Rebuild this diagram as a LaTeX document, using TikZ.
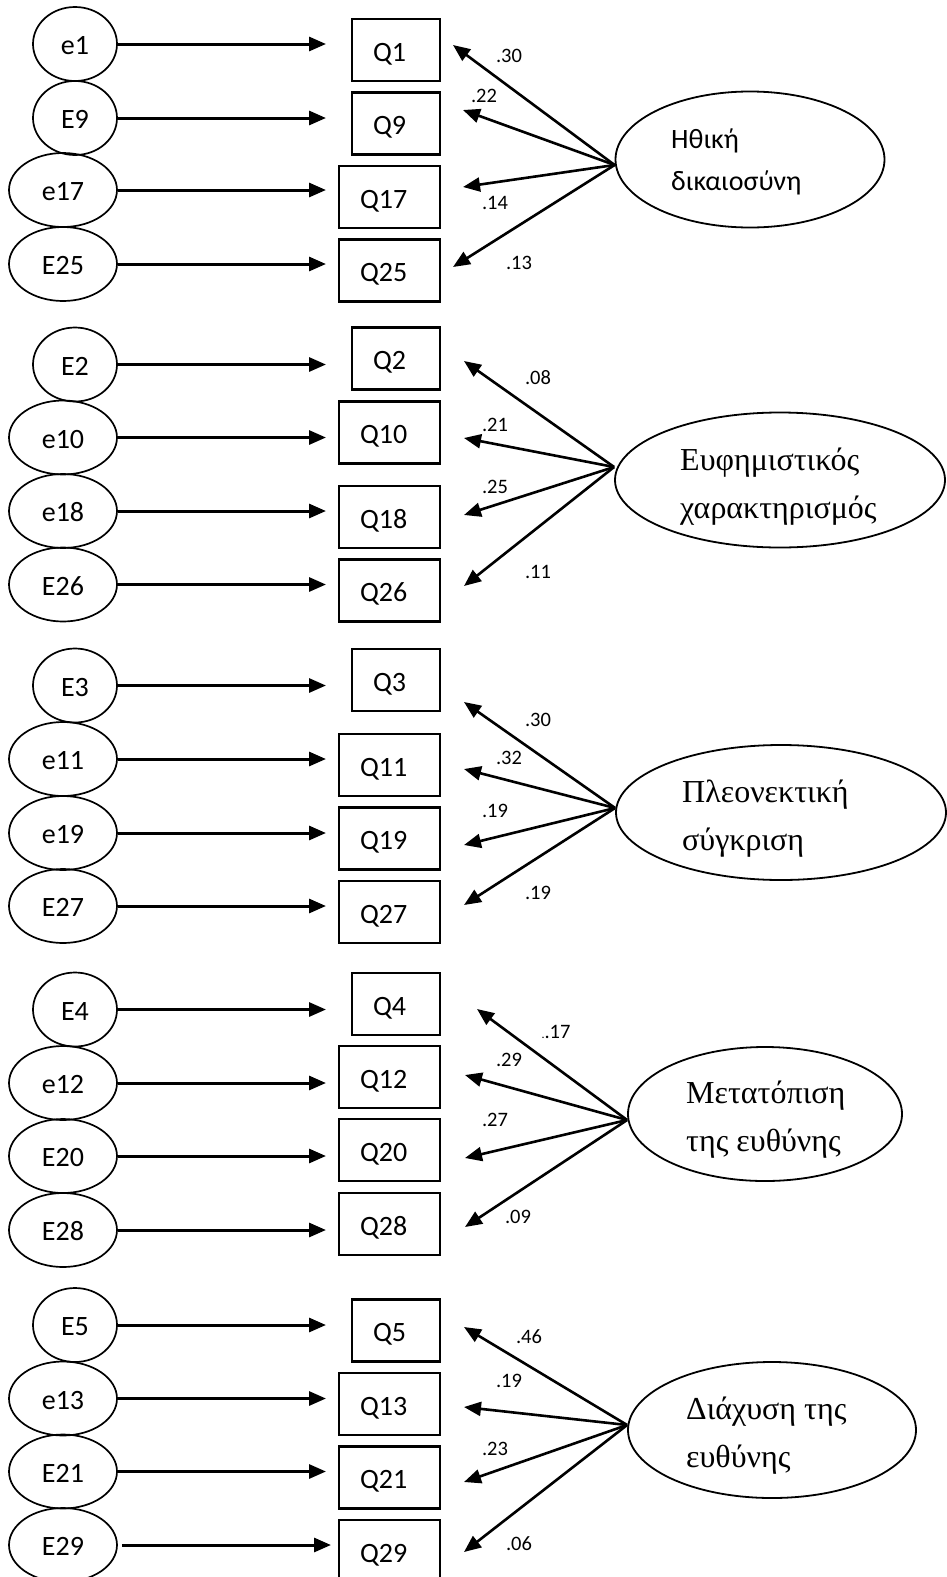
\documentclass[tikz,border=0pt]{standalone}
\usepackage{fontspec}
\setmainfont{Liberation Serif}
\newfontfamily\calfont{Carlito}
\usetikzlibrary{arrows.meta,shapes.geometric}

\begin{document}
\begin{tikzpicture}[x=1pt,y=-1pt,
  every node/.style={inner sep=0pt},
  errsmall/.style={draw, ellipse, line width=1.7pt, minimum width=84pt, minimum height=74pt,
    text height=21pt, text depth=0pt, font=\calfont\fontsize{28}{34}\selectfont},
  errwide/.style={errsmall, minimum width=108pt},
  item/.style={draw, rectangle, line width=2.2pt, minimum height=62pt, inner xsep=21pt,
    inner ysep=0pt, align=left, text height=22pt, text depth=0pt,
    font=\calfont\fontsize{28}{34}\selectfont},
  itemsmall/.style={item, text width=46pt},
  itemwide/.style={item, text width=59pt},
  factor/.style={draw, ellipse, line width=1.8pt},
  ftext/.style={anchor=west, align=left, font=\fontsize{32}{48}\selectfont},
  ftextsans/.style={anchor=west, align=left, font=\calfont\fontsize{28}{41.7}\selectfont},
  wt/.style={font=\calfont\fontsize{20.5}{24}\selectfont},
  errarrow/.style={line width=3pt, -{Triangle[length=17pt,width=14pt]}},
  load/.style={line width=2.6pt, -{Triangle[length=17pt,width=14pt]}}
]
\useasboundingbox (0,0) rectangle (947,1577);
\coordinate (tipx) at (326,0);
\coordinate (tipxb) at (331,0);

% ---------- Ethical justification ----------
\node[errsmall] (e1)  at (75,44)    {e1};
\node[errsmall] (e9)  at (75,118)   {E9};
\node[errwide]  (e17) at (63,190)   {e17};
\node[errwide]  (e25) at (63,264)   {E25};
\node[itemsmall] (q1)  at (396,50)    {Q1};
\node[itemsmall] (q9)  at (396,123.5) {Q9};
\node[itemwide]  (q17) at (389.5,197)   {Q17};
\node[itemwide]  (q25) at (389.5,270.5) {Q25};
\node[factor, minimum width=269pt, minimum height=136pt] (f1) at (750,159.5) {};
\node[ftextsans] (f1t) at (671,162) {Ηθική\\δικαιοσύνη};
\coordinate (t1)  at (453,45);
\coordinate (t9)  at (463,110);
\coordinate (t17) at (463,187);
\coordinate (t25) at (453,267);
\foreach \n in {1,9,17,25}{\draw[errarrow] (e\n.east) -- (e\n.east -| tipx);}
\foreach \n in {1,9,17,25}{\draw[load] ([yshift=-5.5pt]f1.west) -- (t\n);}
\node[wt] (w1)  at (509,56)  {.30};
\node[wt] (w9)  at (484,96)  {.22};
\node[wt] (w17) at (495,203) {.14};
\node[wt] (w25) at (519,263) {.13};

% ---------- Euphemistic labelling ----------
\node[errsmall] (e2)  at (75,364.5) {E2};
\node[errwide]  (e10) at (63,437.5) {e10};
\node[errwide]  (e18) at (63,511)   {e18};
\node[errwide]  (e26) at (63,584.5) {E26};
\node[itemsmall] (q2)  at (396,358.5)   {Q2};
\node[itemwide]  (q10) at (389.5,432.5) {Q10};
\node[itemwide]  (q18) at (389.5,517)   {Q18};
\node[itemwide]  (q26) at (389.5,590.5) {Q26};
\node[factor, minimum width=330pt, minimum height=135pt] (f2) at (780,480) {};
\node[ftext] (f2t) at (680,487) {Ευφημιστικός\\χαρακτηρισμός};
\coordinate (t2)  at (464,361);
\coordinate (t10) at (464,438);
\coordinate (t18) at (464,515);
\coordinate (t26) at (464,586);
\foreach \n in {2,10,18,26}{\draw[errarrow] (e\n.east) -- (e\n.east -| tipx);}
\foreach \n in {2,10,18,26}{\draw[load] ([yshift=13pt]f2.west) -- (t\n);}
\node[wt] (w2)  at (538,378) {.08};
\node[wt] (w10) at (495,425) {.21};
\node[wt] (w18) at (495,487) {.25};
\node[wt] (w26) at (538,572) {.11};

% ---------- Advantageous comparison ----------
\node[errsmall] (e3)  at (75,685.5) {E3};
\node[errwide]  (e11) at (63,759)   {e11};
\node[errwide]  (e19) at (63,833)   {e19};
\node[errwide]  (e27) at (63,906)   {E27};
\node[itemsmall] (q3)  at (396,680)   {Q3};
\node[itemwide]  (q11) at (389.5,765)   {Q11};
\node[itemwide]  (q19) at (389.5,838.5) {Q19};
\node[itemwide]  (q27) at (389.5,912)   {Q27};
\node[factor, minimum width=330pt, minimum height=135pt] (f3) at (781,812.5) {};
\node[ftext] (f3t) at (682,819) {Πλεονεκτική\\σύγκριση};
\coordinate (t3)  at (464,702);
\coordinate (t11) at (464,769);
\coordinate (t19) at (464,845);
\coordinate (t27) at (464,905);
\foreach \n in {3,11,19,27}{\draw[errarrow] (e\n.east) -- (e\n.east -| tipx);}
\foreach \n in {3,11,19,27}{\draw[load] ([yshift=4.5pt]f3.west) -- (t\n);}
\node[wt] (w3)  at (538,720) {.30};
\node[wt] (w11) at (509,758) {.32};
\node[wt] (w19) at (495,811) {.19};
\node[wt] (w27) at (538,893) {.19};

% ---------- Displacement of responsibility ----------
\node[errsmall] (e4)  at (75,1009.5) {E4};
\node[errwide]  (e12) at (63,1083)   {e12};
\node[errwide]  (e20) at (63,1156)   {E20};
\node[errwide]  (e28) at (63,1230)   {E28};
\node[itemsmall] (q4)  at (396,1004)   {Q4};
\node[itemwide]  (q12) at (389.5,1077) {Q12};
\node[itemwide]  (q20) at (389.5,1150) {Q20};
\node[itemwide]  (q28) at (389.5,1224) {Q28};
\node[factor, minimum width=274pt, minimum height=134pt] (f4) at (765,1114) {};
\node[ftext] (f4t) at (686,1120) {Μετατόπιση\\της ευθύνης};
\coordinate (t4)  at (477,1009);
\coordinate (t12) at (465,1075);
\coordinate (t20) at (465,1158);
\coordinate (t28) at (465,1227);
\foreach \n in {4,12,20,28}{\draw[errarrow] (e\n.east) -- (e\n.east -| tipx);}
\foreach \n in {4,12,20,28}{\draw[load] ([yshift=-6pt]f4.west) -- (t\n);}
\node[wt] (w4)  at (556,1032) {{\fontsize{12}{12}\selectfont.}.17};
\node[wt] (w12) at (509,1060) {.29};
\node[wt] (w20) at (495,1120) {.27};
\node[wt] (w28) at (518,1217) {.09};

% ---------- Diffusion of responsibility ----------
\node[errsmall] (e5)  at (75,1325)   {E5};
\node[errwide]  (e13) at (63,1398.5) {e13};
\node[errwide]  (e21) at (63,1471.5) {E21};
\node[errwide]  (e29) at (63,1545)   {E29};
\node[itemsmall] (q5)  at (396,1330.5)  {Q5};
\node[itemwide]  (q13) at (389.5,1404)   {Q13};
\node[itemwide]  (q21) at (389.5,1477.5) {Q21};
\node[itemwide]  (q29) at (389.5,1551)   {Q29};
\node[factor, minimum width=288pt, minimum height=136pt] (f5) at (772,1430) {};
\node[ftext] (f5t) at (686,1436) {Διάχυση της\\ευθύνης};
\coordinate (t5)  at (464,1327);
\coordinate (t13) at (464,1407);
\coordinate (t21) at (464,1482);
\coordinate (t29) at (464,1552);
\foreach \n in {5,13,21}{\draw[errarrow] (e\n.east) -- (e\n.east -| tipx);}
\draw[errarrow, shorten <=4pt] (e29.east) -- (e29.east -| tipxb);
\foreach \n in {5,13,21,29}{\draw[load] ([yshift=5pt]f5.west) -- (t\n);}
\node[wt] (w5)  at (529,1337) {.46};
\node[wt] (w13) at (509,1381) {.19};
\node[wt] (w21) at (495,1449) {.23};
\node[wt] (w29) at (519,1544) {.06};
\end{tikzpicture}
\end{document}
